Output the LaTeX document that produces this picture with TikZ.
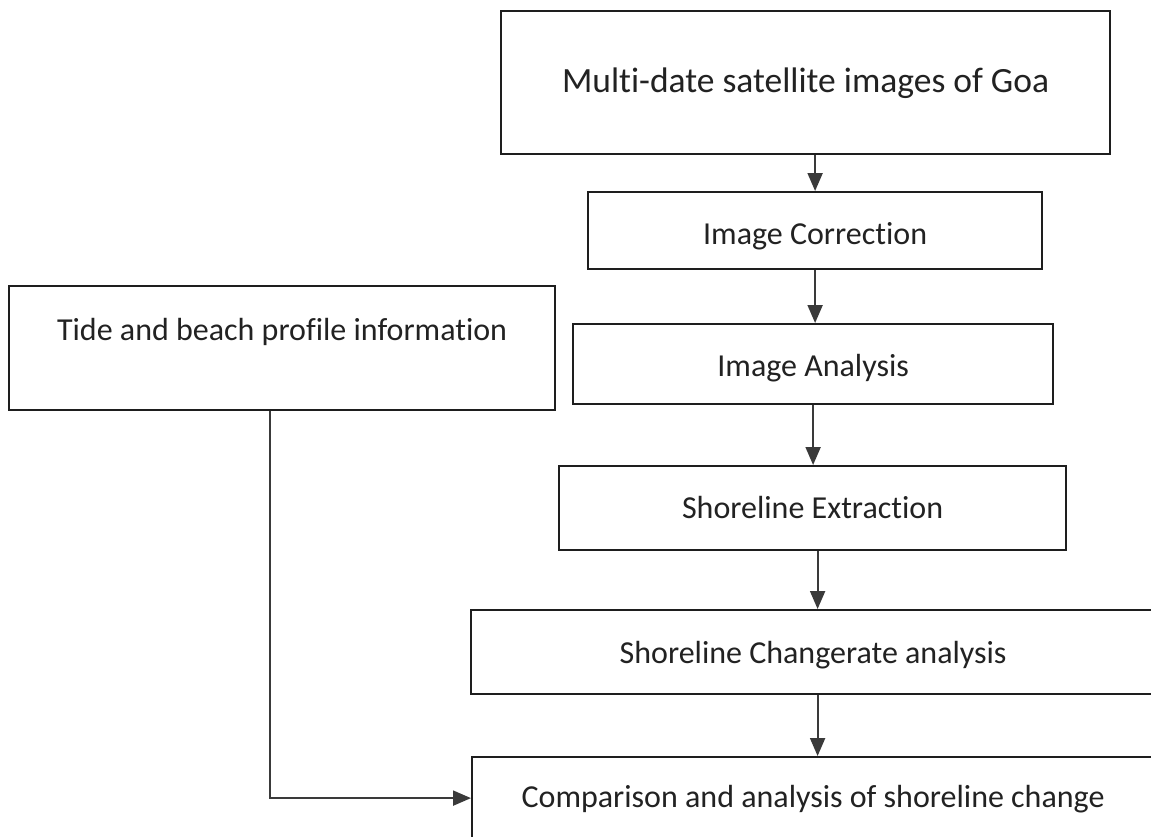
\documentclass[tikz,border=0pt]{standalone}
\usepackage{fontspec}
\setmainfont[Ligatures={NoCommon}]{Carlito}
\usetikzlibrary{arrows.meta}
\definecolor{boxc}{HTML}{1E1E1E}
\definecolor{arrc}{HTML}{3A3A3A}
\definecolor{txtc}{HTML}{222222}
\begin{document}
\begin{tikzpicture}[x=1pt,y=-1pt,
  box/.style={draw=boxc, line width=2.2pt, inner sep=0pt, anchor=north west,
    align=center, text=txtc, font=\fontsize{32}{36}\selectfont},
  arr/.style={draw=arrc, line width=2pt, -{Triangle[length=18pt,width=15pt]}}]
\useasboundingbox (0,0) rectangle (1151,836);
\clip (0,0) rectangle (1151,836);
\fill[white] (0,0) rectangle (1151,836);
\node[box, minimum width=609pt, minimum height=143pt, text height=81pt, text depth=62pt,
  font=\fontsize{35.5}{40}\selectfont] (top) at (500,10) {Multi-date satellite images of Goa};
\node[box, minimum width=454pt, minimum height=77pt, text height=52pt, text depth=25pt] (ic) at (587,191) {Image Correction};
\node[box, minimum width=480pt, minimum height=80pt, text height=52pt, text depth=28pt] (ia) at (572,323) {Image Analysis};
\node[box, minimum width=507pt, minimum height=84pt, text height=52pt, text depth=32pt] (ex) at (558,465) {Shoreline Extraction};
\node[box, minimum width=684pt, minimum height=84pt, text height=53pt, text depth=31pt] (cr) at (470,609) {Shoreline Changerate analysis};
\node[box, minimum width=682pt, minimum height=82pt, text height=50pt, text depth=32pt] (cmp) at (471,756) {Comparison and analysis of shoreline change};
\node[box, minimum width=546pt, minimum height=124pt, text height=54pt, text depth=70pt] (tide) at (8,285) {Tide and beach profile information};
\draw[arr] (top.south -| ic.north) -- (ic.north);
\draw[arr] (ic.south) -- (ic.south |- ia.north);
\draw[arr] (ia.south) -- (ia.south |- ex.north);
\coordinate (m) at ([xshift=5pt]ex.south);
\draw[arr] (m) -- (m |- cr.north);
\draw[arr] (m |- cr.south) -- (m |- cmp.north);
\coordinate (t) at ([xshift=-12pt]tide.south);
\draw[arr] (t) |- (cmp.west);
\end{tikzpicture}
\end{document}
